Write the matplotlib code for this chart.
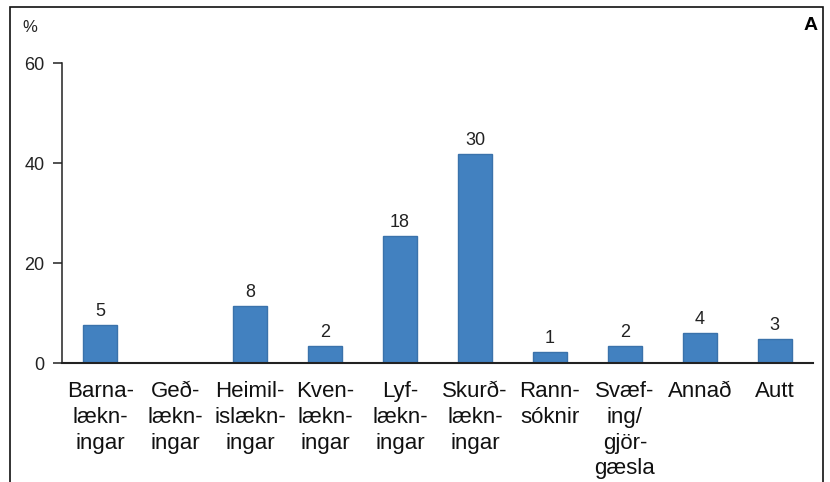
"""
Súlurit: skipting eftir sérgreinum (%) með fjölda ofan á súlum
"""
import matplotlib
matplotlib.use("Agg")
import matplotlib.pyplot as plt
from matplotlib.patches import Rectangle

# Gögn
flokkar = ["Barna-\nlækn-\ningar", "Geð-\nlækn-\ningar", "Heimil-\nislækn-\ningar",
           "Kven-\nlækn-\ningar", "Lyf-\nlækn-\ningar", "Skurð-\nlækn-\ningar",
           "Rann-\nsóknir", "Svæf-\ning/\ngjör-\ngæsla", "Annað", "Autt"]
hlutfall = [7.6, 0, 11.5, 3.4, 25.4, 41.9, 2.3, 3.4, 6.1, 4.9]
fjoldi = ["5", "", "8", "2", "18", "30", "1", "2", "4", "3"]
y_ticks = [0, 20, 40, 60]

plt.rcParams['font.family'] = ['Liberation Sans', 'DejaVu Sans']

fig = plt.figure(figsize=(8.3, 4.82), dpi=100)
ax = fig.add_axes([62 / 830, 1 - 363 / 482, 751 / 830, 300 / 482])

x = list(range(len(flokkar)))
bars = ax.bar(x, hlutfall, width=0.46, color='#4281c0', edgecolor='#3a72ab', linewidth=1.0)

# Fjöldi ofan á súlum
for b, lab in zip(bars, fjoldi):
    if lab:
        ax.annotate(lab, (b.get_x() + b.get_width() / 2, b.get_height()),
                    xytext=(0, 3.5), textcoords='offset points',
                    ha='center', va='bottom', fontsize=13, color='#222222')

ax.set_xlim(-0.51, len(flokkar) - 0.49)
ax.set_ylim(0, 60)
ax.set_yticks(y_ticks)
ax.set_xticks(x)
ax.set_xticklabels(flokkar, fontsize=16, linespacing=1.3, va='top')
ax.tick_params(axis='x', length=0, pad=13, colors='#111111')
ax.tick_params(axis='y', length=6.5, width=1.1, pad=6, labelsize=13, colors='#222222')

for s in ['top', 'right']:
    ax.spines[s].set_visible(False)
ax.spines['left'].set_linewidth(1.1)
ax.spines['bottom'].set_linewidth(1.5)
ax.spines['left'].set_color('#222222')
ax.spines['bottom'].set_color('#222222')

# Rammi utan um myndina (neðri brún skorin af)
fig.patches.append(Rectangle((10 / 830, -0.05), 813 / 830, 1.05 - 7 / 482,
                             transform=fig.transFigure, fill=False,
                             edgecolor='#111111', linewidth=1.2))

fig.text(22 / 830, 1 - 27 / 482, "%", fontsize=12, va='center', ha='left', color='#222222')
fig.text(818 / 830, 1 - 25 / 482, "A", fontsize=14, fontweight='heavy', va='center', ha='right')

fig.savefig("out.png", dpi=100)
